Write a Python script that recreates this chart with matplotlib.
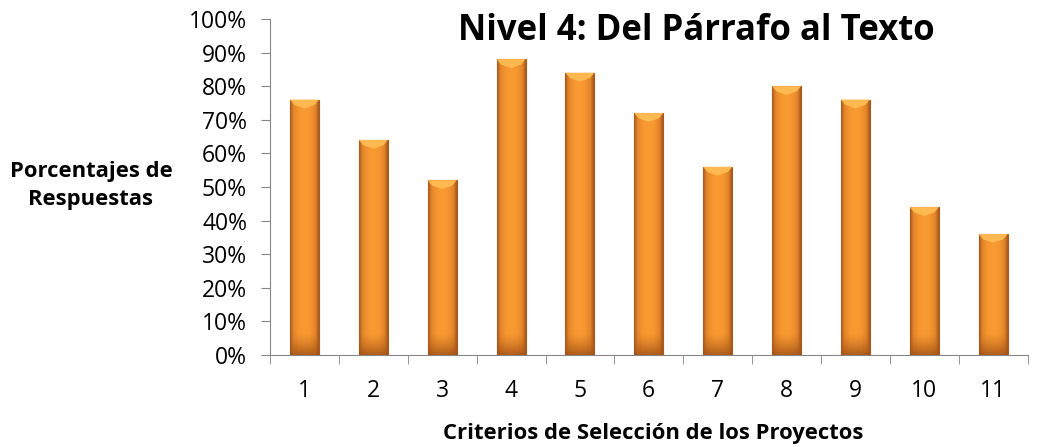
import numpy as np
import matplotlib
matplotlib.use("Agg")
import matplotlib.pyplot as plt
from matplotlib.colors import LinearSegmentedColormap

# data
criterios = ["1", "2", "3", "4", "5", "6", "7", "8", "9", "10", "11"]
porcentajes = [76, 64, 52, 88, 84, 72, 56, 80, 76, 44, 36]
yticks = list(range(0, 101, 10))

plt.rcParams['font.family'] = ['Open Sans', 'DejaVu Sans']

fig = plt.figure(figsize=(10.39, 4.47), dpi=100)
ax = fig.add_axes([0.2599, 0.2058, 0.7291, 0.7517])

x = np.arange(len(criterios))
bars = ax.bar(x, porcentajes, width=0.42, color="#F29432",
              edgecolor="#A8591C", linewidth=0.8, zorder=2)

# shading across each bar: dark rims, flat bright orange body
shade = LinearSegmentedColormap.from_list("shade", [
    (0.0, "#A8591C"), (0.12, "#E3862C"), (0.3, "#F5962F"),
    (0.5, "#F99A33"), (0.7, "#F5962F"), (0.88, "#E3862C"), (1.0, "#A8591C")])
# darkening toward the foot of the bar
foot = LinearSegmentedColormap.from_list("foot", ["#9C4F16CC", "#B8621C00"])
grad = np.linspace(0, 1, 100).reshape(1, -1)
vgrad = np.linspace(0, 1, 50).reshape(-1, 1)
for b in bars:
    bx, w, h = b.get_x(), b.get_width(), b.get_height()
    im = ax.imshow(grad, cmap=shade, aspect="auto", zorder=3,
                   extent=[bx, bx + w, 0, h], interpolation="bilinear")
    im.set_clip_path(b)
    im2 = ax.imshow(vgrad, cmap=foot, aspect="auto", zorder=4, origin="lower",
                    extent=[bx, bx + w, 0, 6], interpolation="bilinear")
    im2.set_clip_path(b)
    # light top bevel
    cap = 2.6
    ax.fill([bx, bx + w, bx + w * 0.85, bx + w * 0.5, bx + w * 0.15],
            [h, h, h - cap * 0.6, h - cap, h - cap * 0.6],
            color="#FFB950", linewidth=0, zorder=4)

ax.set_xlim(-0.5, len(criterios) - 0.5)
ax.set_ylim(0, 100)
ax.set_yticks(yticks)
ax.set_yticklabels([f"{v}%" for v in yticks], fontsize=16.5)
ax.set_xticks(x)
ax.set_xticklabels(criterios, fontsize=16.5)
ax.set_xticks(np.arange(-0.5, len(criterios)), minor=True)
ax.tick_params(axis="x", which="major", length=0, pad=17)
ax.tick_params(axis="x", which="minor", length=6.5, color="#868686")
ax.tick_params(axis="y", length=6.5, color="#868686", pad=10)

for s in ["top", "right"]:
    ax.spines[s].set_visible(False)
ax.spines["left"].set_color("#868686")
ax.spines["bottom"].set_color("#868686")

fig.text(0.670, 0.93, "Nivel 4: Del Párrafo al Texto", fontsize=25,
         fontweight="bold", ha="center", va="center")
fig.text(0.0875, 0.585, "Porcentajes de\nRespuestas", fontsize=15.8,
         fontweight="bold", ha="center", va="center", linespacing=1.45)
fig.text(0.629, 0.031, "Criterios de Selección de los Proyectos", fontsize=15.8,
         fontweight="bold", ha="center", va="center")

fig.savefig("out.png", dpi=100)
